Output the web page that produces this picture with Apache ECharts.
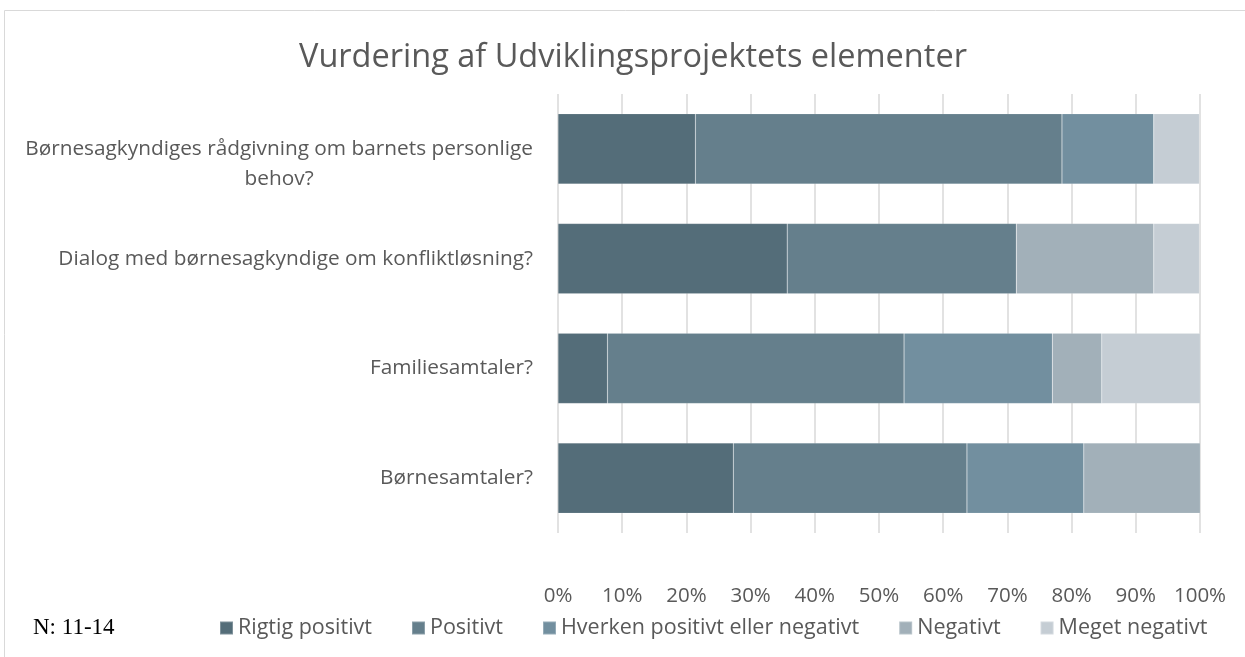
<!DOCTYPE html>
<html>
<head>
<meta charset="utf-8">
<script src="https://cdn.jsdelivr.net/npm/echarts@6/dist/echarts.min.js"></script>
<style>
  html, body { margin: 0; padding: 0; background: #fff; }
  #chart { width: 1245px; height: 657px; }
</style>
</head>
<body>
<div id="chart"></div>
<script>
// kategorier, nederst først (ECharts tegner første kategori nederst)
var categories = [
  'Børnesamtaler?',
  'Familiesamtaler?',
  'Dialog med børnesagkyndige om konfliktløsning?',
  'Børnesagkyndiges rådgivning om barnets personlige\nbehov?'
];
var seriesNames = ['Rigtig positivt', 'Positivt', 'Hverken positivt eller negativt', 'Negativt', 'Meget negativt'];
// andele i procent
var rigtigPositivt = [27.3, 7.7, 35.7, 21.4];
var positivt       = [36.4, 46.2, 35.7, 57.1];
var hverken        = [18.2, 23.1, 0, 14.3];
var negativt       = [18.2, 7.7, 21.4, 0];
var megetNegativt  = [0, 15.4, 7.1, 7.1];
var tickLabels = ['0%', '10%', '20%', '30%', '40%', '50%', '60%', '70%', '80%', '90%', '100%'];

var colors = ['#546d79', '#657f8c', '#728f9f', '#a2b0b9', '#c5cdd4'];
var font = '"Open Sans", "Liberation Sans", sans-serif';
var allData = [rigtigPositivt, positivt, hverken, negativt, megetNegativt];

var myChart = echarts.init(document.getElementById('chart'));

var series = seriesNames.map(function (name, i) {
  return {
    name: name,
    type: 'bar',
    stack: 'total',
    barWidth: '64%',
    data: allData[i],
    itemStyle: { color: colors[i], borderColor: 'rgba(255,255,255,0.25)', borderWidth: 0.5 }
  };
});

myChart.setOption({
  animation: false,
  color: colors,
  title: {
    text: 'Vurdering af Udviklingsprojektets elementer',
    left: 294,
    top: 36,
    textStyle: { fontFamily: font, fontSize: 32.5, fontWeight: 'normal', color: '#595959' }
  },
  graphic: [
    {
      type: 'rect',
      shape: { x: 4.5, y: 10.5, width: 1260, height: 700 },
      style: { fill: 'none', stroke: '#d9d9d9', lineWidth: 1 }
    },
    {
      type: 'text',
      left: 33,
      top: 616,
      style: { text: 'N: 11-14', font: '23px "Liberation Serif", "DejaVu Serif", serif', fill: '#000' }
    }
  ],
  legend: {
    data: seriesNames,
    left: 214,
    top: 612,
    itemWidth: 13,
    itemHeight: 13,
    itemGap: 39,
    icon: 'rect',
    textStyle: { fontFamily: font, fontSize: 21.5, color: '#595959' }
  },
  grid: { left: 558, right: 45, top: 94, bottom: 124, containLabel: false },
  xAxis: {
    type: 'value',
    min: 0,
    max: 100,
    interval: 10,
    axisLine: { show: false },
    axisTick: { show: false },
    splitLine: { show: true, lineStyle: { color: '#d9d9d9', width: 1.5 } },
    axisLabel: {
      margin: 53,
      fontFamily: font,
      fontSize: 20.5,
      color: '#595959',
      formatter: function (v) { return tickLabels[Math.round(v / 10)]; }
    }
  },
  yAxis: {
    type: 'category',
    data: categories,
    axisLine: { show: false },
    axisTick: { show: false },
    axisLabel: {
      margin: 25,
      fontFamily: font,
      fontSize: 20.8,
      color: '#595959',
      lineHeight: 30,
      formatter: function (v) {
        var lines = v.split('\n');
        if (lines.length === 1) return v;
        // tom linje øverst, så første linje står ud for søjlen
        return '{c| }\n' + lines.map(function (l) { return '{c|' + l + '}'; }).join('\n');
      },
      rich: {
        c: { align: 'center', fontFamily: font, fontSize: 20.8, color: '#595959', lineHeight: 30 }
      }
    }
  },
  series: series
});
</script>
</body>
</html>
